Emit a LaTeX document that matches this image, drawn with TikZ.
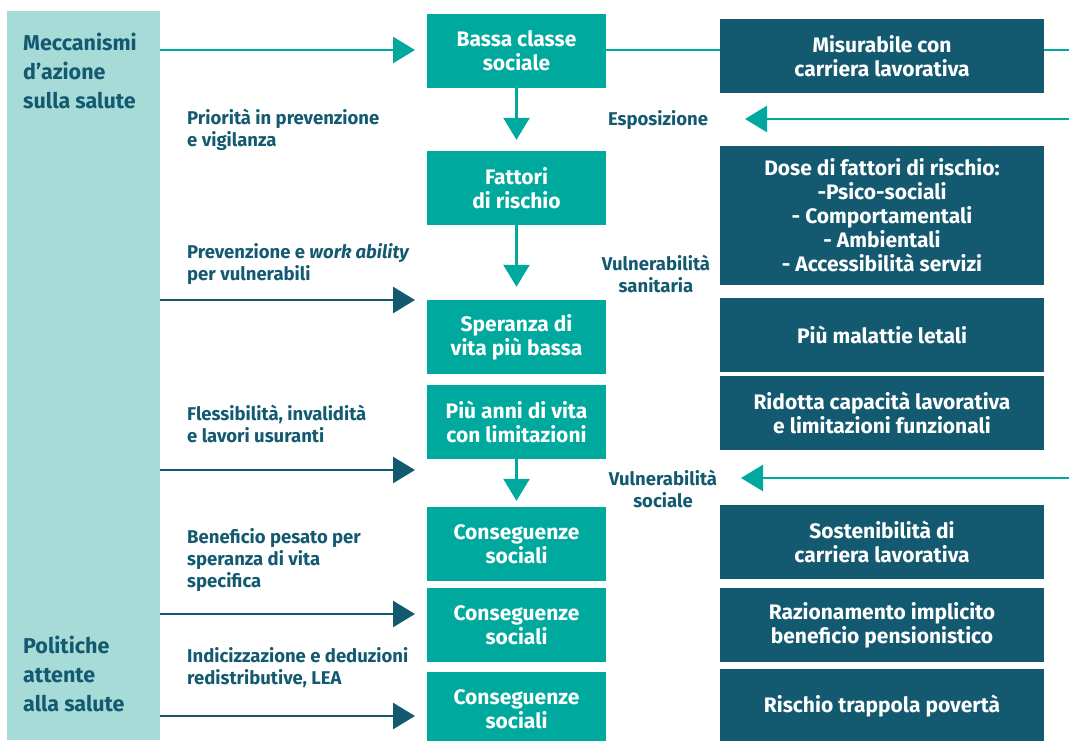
\documentclass[tikz,border=0pt]{standalone}
\usepackage{fontspec}
\setmainfont{Fira Sans}
\usetikzlibrary{arrows.meta,calc}
\definecolor{teal1}{HTML}{00A99D}
\definecolor{dark1}{HTML}{135A70}
\definecolor{light1}{HTML}{A6DBD7}
\begin{document}
\begin{tikzpicture}[x=1pt,y=-1pt,
  cbox/.style={fill=teal1,text=white,minimum width=179pt,minimum height=74pt,inner sep=0pt,align=center,font=\bfseries\fontsize{21}{24}\selectfont},
  rbox/.style={fill=dark1,text=white,minimum width=324pt,minimum height=74pt,inner sep=0pt,align=center,font=\bfseries\fontsize{21}{24}\selectfont},
  lbl/.style={text=dark1,anchor=base west,align=left,inner sep=0pt,font=\bfseries\fontsize{18.5}{22}\selectfont},
  clbl/.style={text=dark1,anchor=base,align=center,inner sep=0pt,font=\bfseries\fontsize{18.5}{22}\selectfont},
  plbl/.style={text=dark1,anchor=base west,align=left,inner sep=0pt,font=\bfseries\fontsize{21.5}{29}\selectfont},
  tip/.style={-{Triangle[length=22pt,width=26pt]}},
  tarr/.style={draw=teal1,line width=2.6pt,tip},
  darr/.style={draw=dark1,line width=2.6pt,tip},
  tline/.style={draw=teal1,line width=2.6pt}
]
\useasboundingbox (0,0) rectangle (1069,740);
% left panel
\node[fill=light1,minimum width=153pt,minimum height=729pt,inner sep=0pt,anchor=north west] (L) at (7,11) {};
\node[plbl] (m1) at (23,108) {Meccanismi\\d'azione\\sulla salute};
\node[plbl] (m2) at (23,711) {Politiche\\attente\\alla salute};
% centre boxes
\node[cbox] (B1) at (516.5,51) {Bassa classe\\sociale};
\node[cbox] (B2) at (516.5,188) {Fattori\\di rischio};
\node[cbox] (B3) at (516.5,337) {Speranza di\\vita più bassa};
\node[cbox] (B4) at (516.5,422) {Più anni di vita\\con limitazioni};
\node[cbox] (B5) at (516.5,544) {Conseguenze\\sociali};
\node[cbox] (B6) at (516.5,625) {Conseguenze\\sociali};
\node[cbox] (B7) at (516.5,709) {Conseguenze\\sociali};
% right boxes
\node[rbox] (R1) at (882,56) {Misurabile con\\carriera lavorativa};
\node[rbox,minimum height=139pt] (R2) at (882,215.5) {Dose di fattori di rischio:\\-Psico-sociali\\- Comportamentali\\- Ambientali\\- Accessibilità servizi};
\node[rbox] (R3) at (882,335) {Più malattie letali};
\node[rbox] (R4) at (882,413) {Ridotta capacità lavorativa\\e limitazioni funzionali};
\node[rbox] (R5) at (882,542) {Sostenibilità di\\carriera lavorativa};
\node[rbox] (R6) at (882,625) {Razionamento implicito\\beneficio pensionistico};
\node[rbox] (R7) at (882,706) {Rischio trappola povertà};
% left labels (anchored at baseline of last line)
\node[lbl] (l1) at (187,146) {Priorità in prevenzione\\e vigilanza};
\node[lbl] (l2) at (187,280) {Prevenzione e \textit{work ability}\\per vulnerabili};
\node[lbl] (l3) at (187,442) {Flessibilità, invalidità\\e lavori usuranti};
\node[lbl] (l4) at (187,587) {Beneficio pesato per\\speranza di vita\\specifica};
\node[lbl] (l5) at (187,684) {Indicizzazione e deduzioni\\redistributive, LEA};
% middle labels
\node[clbl] (esp) at (658,125) {Esposizione};
\node[clbl] (vsan) at (656,292) {Vulnerabilità\\sanitaria};
\node[clbl] (vsoc) at (663,507) {Vulnerabilità\\sociale};
% coordinates
\coordinate (t1) at (415,50);
\coordinate (t3) at (415,300);
\coordinate (t4) at (415,470);
\coordinate (t6) at (415,614);
\coordinate (t7) at (415,716);
\coordinate (e1) at (1069,50);
\coordinate (e2) at (1069,119);
\coordinate (e3) at (1069,478);
\coordinate (h2) at (745,119);
\coordinate (h3) at (741,478);
% connectors
\draw[tarr] (L.east |- t1) -- (t1);
\draw[tline] (B1.east |- t1) -- (R1.west |- t1);
\draw[tline] (R1.east |- t1) -- (e1);
\draw[tarr,shorten >=11pt] (B1.south) -- (B2.north);
\draw[tarr,shorten >=13pt] (B2.south) -- (B3.north);
\draw[tarr,shorten >=6pt] (B4.south) -- (B5.north);
\draw[tarr] (e2) -- (h2);
\draw[tarr] (e3) -- (h3);
\draw[darr] (L.east |- t3) -- (t3);
\draw[darr] (L.east |- t4) -- (t4);
\draw[darr] (L.east |- t6) -- (t6);
\draw[darr] (L.east |- t7) -- (t7);
\end{tikzpicture}
\end{document}
